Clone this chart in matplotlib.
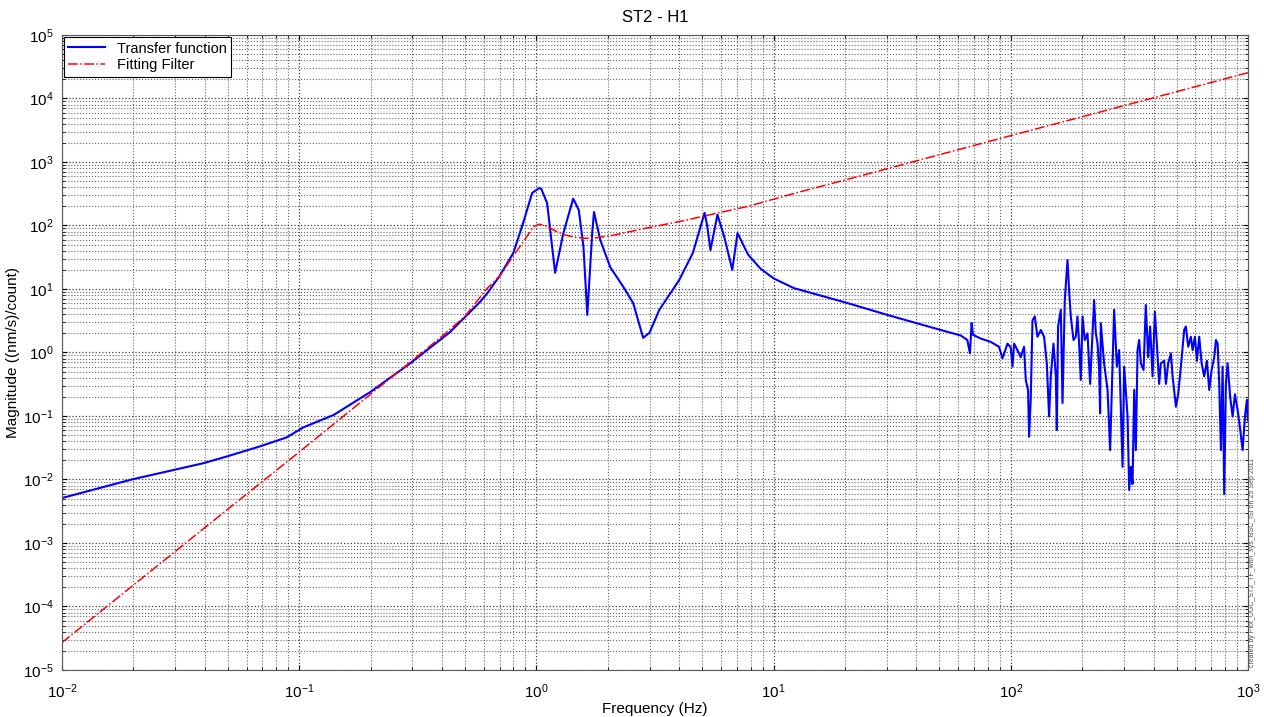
import numpy as np
import matplotlib
matplotlib.use("Agg")
import matplotlib.pyplot as plt

# transfer function, Hz / (nm/s)/count
tf_freq = [0.01, 0.0197, 0.0394, 0.0495, 0.068, 0.0887, 0.104, 0.14, 0.2, 0.294,
           0.433, 0.58, 0.62, 0.70, 0.80, 0.88, 0.96, 1.03, 1.05, 1.11,
           1.20, 1.30, 1.43, 1.51, 1.58, 1.64, 1.72, 1.75, 1.86, 2.05,
           2.33, 2.56, 2.82, 3.0, 3.3, 4.0, 4.57, 5.12, 5.25, 5.42,
           5.80, 6.2, 6.7, 7.05, 7.8, 8.8, 10.0, 12.2, 20.5, 30.2,
           50.7, 61.6, 65.6, 67.3, 68.4, 69.3, 74.6, 82.3, 89.2, 92.3,
           96.9, 100.0, 101.7, 103.3, 106.7, 110.2, 113.8, 115.7, 118.3, 119.5,
           121.4, 123.5, 126.3, 129.6, 133.9, 138.2, 141.9, 145.1, 147.5, 151.4,
           154.9, 156.4, 158.3, 162.6, 165.3, 169.0, 173.5, 176.2, 179.1, 183.9,
           188.0, 191.1, 194.2, 197.4, 200.7, 205.2, 210.6, 216.1, 224.6, 228.4,
           232.2, 235.8, 238.1, 239.7, 247.5, 255.9, 262.4, 266.0, 272.8, 280.1,
           286.4, 296.0, 300.7, 310.8, 315.7, 320.8, 326.2, 331.4, 336.8, 342.5,
           347.8, 353.5, 363.0, 371.0, 379.6, 387.0, 396.1, 405.1, 413.0, 422.3,
           429.4, 443.5, 451.0, 461.1, 473.2, 481.2, 497.0, 508.1, 521.5, 538.4,
           547.4, 560.0, 574.7, 584.4, 597.6, 609.3, 623.1, 637.8, 654.1, 671.4,
           686.6, 702.8, 720.8, 733.0, 745.0, 756.7, 769.0, 782.0, 794.3, 807.0,
           820.9, 842.0, 861.8, 881.3, 904.7, 927.9, 949.7, 971.2, 990.0, 1000.0]
tf_mag = [0.0051, 0.010, 0.018, 0.023, 0.033, 0.046, 0.066, 0.104, 0.24, 0.675,
          2.1, 6.3, 8.5, 16, 37, 110, 325, 390, 375, 225,
          18, 76, 265, 175, 46, 3.9, 76, 163, 59, 22,
          10.7, 6.0, 1.7, 2.05, 4.7, 13.8, 37, 158, 100, 41,
          148, 66, 20, 76, 35, 21, 14.7, 10.3, 6.0, 3.9,
          2.26, 1.85, 1.57, 0.97, 2.9, 1.9, 1.66, 1.47, 1.23, 0.81,
          1.38, 1.2, 0.6, 1.38, 1.09, 0.84, 1.23, 0.37, 0.257, 0.047,
          0.18, 3.2, 3.7, 1.77, 2.26, 1.77, 0.675, 0.098, 0.42, 1.38,
          0.42, 0.06, 2.57, 4.7, 0.16, 6.7, 28.6, 9.5, 3.7, 1.57,
          1.77, 3.7, 1.38, 0.37, 3.7, 1.57, 2.0, 0.32, 6.7, 2.0,
          1.38, 0.53, 0.11, 2.9, 0.675, 0.257, 0.029, 0.18, 4.7, 0.6,
          1.09, 0.0158, 0.6, 0.098, 0.0068, 0.0158, 0.0085, 0.257, 0.029, 1.09,
          1.57, 0.675, 0.53, 5.6, 0.84, 2.57, 0.42, 4.4, 1.38, 0.32,
          0.675, 0.74, 0.32, 0.675, 0.97, 0.42, 0.14, 0.22, 0.6, 2.26,
          2.57, 1.23, 1.77, 1.09, 1.77, 0.74, 1.77, 0.675, 0.42, 0.74,
          0.257, 0.53, 0.84, 1.57, 1.38, 0.32, 0.029, 0.6, 0.0059, 0.32,
          0.675, 0.195, 0.098, 0.22, 0.124, 0.06, 0.029, 0.098, 0.18, 0.085]

# fitting filter
fit_freq = [0.01, 0.05, 0.1, 0.2, 0.3, 0.4, 0.5, 0.62, 0.7, 0.78,
            0.9, 0.97, 1.03, 1.1, 1.18, 1.3, 1.43, 1.6, 1.74, 2.1,
            2.95, 4.0, 5.5, 7.8, 12.6, 20, 50, 100, 300, 1000]
fit_mag = [2.7e-5, 0.0034, 0.027, 0.22, 0.75, 1.8, 3.7, 10.2, 16, 29,
           62, 95, 105, 98, 85, 72, 66, 63, 63, 70,
           92, 115, 150, 200, 330, 520, 1300, 2600, 7700, 25500]

plt.rcParams['font.family'] = ['Liberation Sans', 'DejaVu Sans']

fig = plt.figure(figsize=(12.64, 7.17), dpi=100)
ax = fig.add_axes([0.049, 0.0656, 0.9383, 0.8856])

ax.loglog(tf_freq, tf_mag, color='#0000ff', lw=1.5, label='Transfer function')
ax.loglog(fit_freq, fit_mag, color='#ff0000', lw=1.1, ls='-.', label='Fitting Filter')

ax.set_xlim(1e-2, 1e3)
ax.set_ylim(1e-5, 1e5)
ax.grid(True, which='major', ls=':', color='0.25', lw=0.9)
ax.grid(True, which='minor', ls=':', color='0.4', lw=0.8)
ax.tick_params(which='both', direction='in', top=True, right=True, labelsize=11)
ax.tick_params(axis='x', which='both', pad=9)
ax.tick_params(axis='y', which='both', pad=6)
ax.yaxis.set_major_locator(matplotlib.ticker.LogLocator(base=10, numticks=15))
ax.yaxis.set_minor_locator(matplotlib.ticker.LogLocator(base=10, subs=np.arange(2, 10), numticks=15))
for s in ax.spines.values():
    s.set_color('0.35')

ax.set_title('ST2 - H1', fontsize=12, pad=9)
ax.set_xlabel('Frequency (Hz)', fontsize=11, labelpad=1)
ax.set_ylabel('Magnitude ((nm/s)/count)', fontsize=11, labelpad=2)

leg = ax.legend(loc='upper left', fontsize=10.5, fancybox=False, framealpha=1,
                edgecolor='black', borderaxespad=0.15, handlelength=2.5,
                borderpad=0.3, labelspacing=0.2)
leg.get_frame().set_linewidth(0.8)

fig.text(0.991, 0.07, 'created by Plot_UGC_ST2_TF_with_sys_BSC_ISI on 25 Sep 2011',
         rotation=90, fontsize=5, color='0.3', ha='center', va='bottom')

fig.savefig('out.png', dpi=100)
